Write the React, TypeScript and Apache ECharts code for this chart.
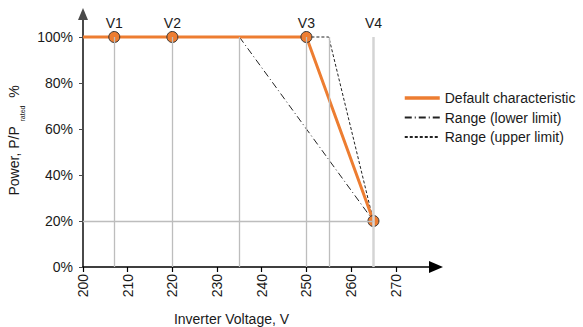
import React, { useEffect, useRef } from "react";
import * as echarts from "echarts";

const xTicks = [200, 210, 220, 230, 240, 250, 260, 270];
const yTicks = [0, 20, 40, 60, 80, 100];

const defaultV = [200, 250, 265];
const defaultP = [100, 100, 20];
const lowerV = [235, 265];
const lowerP = [100, 20];
const upperV = [250, 255, 265];
const upperP = [100, 100, 20];

const markerNames = ["V1", "V2", "V3", "V4"];
const markerV = [207, 220, 250, 265];
const markerP = [100, 100, 100, 20];

const guideV = [207, 220, 235, 250, 255, 265];
const guideNames = ["V1", "V2", "", "V3", "", "V4"];

const seriesNames = ["Default characteristic", "Range (lower limit)", "Range (upper limit)"];

const FONT = '"Liberation Sans", Arial, sans-serif';
const ORANGE = "#ED7D31";
const TXT = "#1a1a1a";

export default function App() {
  const ref = useRef<HTMLDivElement>(null);
  useEffect(() => {
    if (!ref.current) return;
    const chart = echarts.init(ref.current, undefined, { renderer: "svg" });
    const zip = (a: number[], b: number[]) => a.map((v, i) => [v, b[i]]);
    const guideLines: any[] = guideV.map((v, i) => [
      {
        coord: [v, 0],
        name: guideNames[i],
        lineStyle: i === guideV.length - 1 ? { color: "#d4d4d4", width: 2.5, type: "solid" } : undefined,
      },
      { coord: [v, 100] },
    ]);
    guideLines.push([
      { coord: [200, 20], name: "" },
      { coord: [265, 20] },
    ]);
    chart.setOption({
      animation: false,
      textStyle: { fontFamily: FONT },
      grid: { left: 83, right: 147, top: 14, bottom: 60, containLabel: false, outerBoundsMode: "none" },
      legend: {
        orient: "vertical",
        left: 403,
        top: 91,
        padding: 0,
        itemWidth: 35,
        itemHeight: 14,
        itemGap: 5.5,
        data: [
          { name: seriesNames[0], lineStyle: { width: 3.5 } },
          { name: seriesNames[1] },
          { name: seriesNames[2] },
        ],
        itemStyle: { opacity: 0 },
        textStyle: { fontSize: 14, color: TXT, fontFamily: FONT },
        selectedMode: false,
      },
      xAxis: {
        type: "value",
        min: 200,
        max: 279,
        interval: 10,
        splitLine: { show: false },
        axisLine: {
          show: true,
          lineStyle: { color: "#000", width: 1.6 },
          symbol: ["none", "triangle"],
          symbolSize: [12, 14],
        },
        axisTick: { show: true, length: 5, lineStyle: { color: "#000", width: 1.2 }, customValues: xTicks },
        axisLabel: {
          rotate: 90,
          margin: 7,
          fontSize: 14,
          color: TXT,
          fontFamily: FONT,
          customValues: xTicks,
        },
        name: "Inverter Voltage, V",
        nameLocation: "middle",
        nameGap: 45,
        nameTextStyle: { fontSize: 14, color: TXT, fontFamily: FONT, padding: [0, 56, 0, 0] },
      },
      yAxis: {
        type: "value",
        min: 0,
        max: 110,
        interval: 20,
        splitLine: { show: false },
        axisLine: {
          show: true,
          lineStyle: { color: "#4a4a4a", width: 2 },
          symbol: ["none", "triangle"],
          symbolSize: [10, 12],
        },
        axisTick: { show: true, length: 4, lineStyle: { color: "#4a4a4a", width: 1 }, customValues: yTicks },
        axisLabel: {
          margin: 10,
          fontSize: 14,
          color: TXT,
          fontFamily: FONT,
          customValues: yTicks,
          formatter: (v: number) => v + "%",
        },
        name: "{a|Power, P/P }{s|rated}{a|  %}",
        nameLocation: "middle",
        nameRotate: 90,
        nameGap: 58,
        nameTextStyle: {
          rich: {
            a: { fontSize: 14, lineHeight: 16, color: TXT, fontFamily: FONT, verticalAlign: "top" },
            s: { fontSize: 7, lineHeight: 7, color: TXT, fontFamily: FONT, verticalAlign: "top", padding: [12, 0, 0, 1] },
          },
        },
      },
      series: [
        {
          name: "guides",
          type: "line",
          data: [],
          z: 1,
          silent: true,
          markLine: {
            silent: true,
            symbol: ["none", "none"],
            lineStyle: { color: "#bdbdbd", width: 1.3, type: "solid" },
            label: {
              show: true,
              position: "end",
              distance: 7,
              formatter: "{b}",
              fontSize: 14,
              color: TXT,
              fontFamily: FONT,
            },
            emphasis: { disabled: true },
            data: guideLines,
          },
        },
        {
          name: seriesNames[1],
          type: "line",
          data: zip(lowerV, lowerP),
          symbol: "none",
          z: 2,
          lineStyle: { color: "#222", width: 1, type: [7, 3, 1, 3] },
          itemStyle: { color: "#222" },
        },
        {
          name: seriesNames[2],
          type: "line",
          data: zip(upperV, upperP),
          symbol: "none",
          z: 2,
          lineStyle: { color: "#222", width: 1, type: [3, 2] },
          itemStyle: { color: "#222" },
        },
        {
          name: seriesNames[0],
          type: "line",
          data: zip(defaultV, defaultP),
          symbol: "none",
          z: 3,
          lineStyle: { color: ORANGE, width: 3 },
          itemStyle: { color: ORANGE },
        },
        {
          name: "markers",
          type: "scatter",
          data: markerV.map((v, i) => ({ name: markerNames[i], value: [v, markerP[i]] })),
          symbol: "circle",
          symbolSize: 11,
          z: 4,
          itemStyle: { color: ORANGE, borderColor: "#333", borderWidth: 1, opacity: 1 },
        },
      ],
    });
    return () => chart.dispose();
  }, []);
  return (
    <div
      ref={ref}
      style={{ position: "fixed", left: 0, top: 0, width: 583, height: 327, background: "#fff" }}
    />
  );
}
